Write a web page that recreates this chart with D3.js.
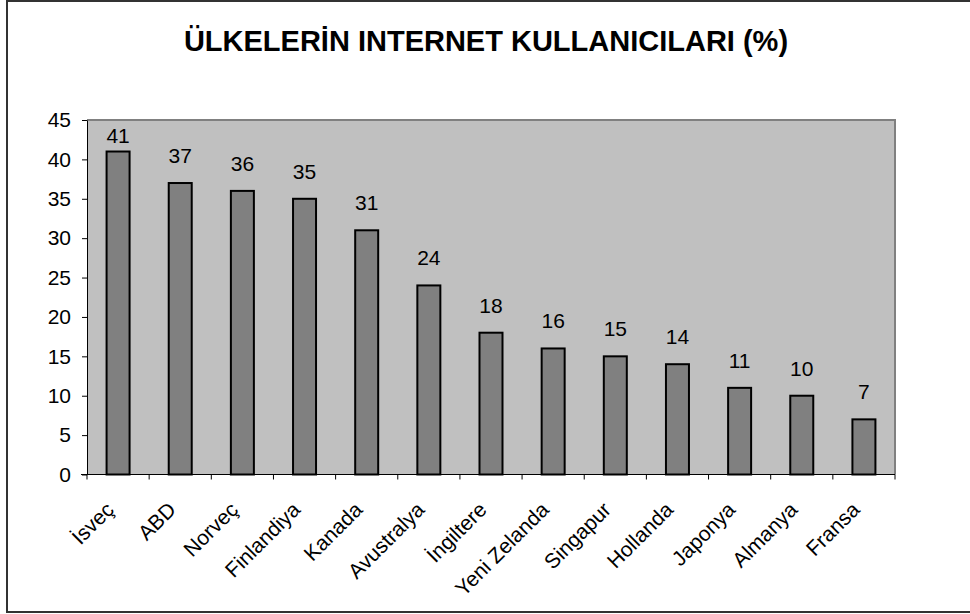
<!DOCTYPE html>
<html>
<head>
<meta charset="utf-8">
<script src="https://cdn.jsdelivr.net/npm/d3@7"></script>
<style>
  body { margin: 0; background: #fff; }
  svg { display: block; font-family: 'Liberation Sans', Arial, sans-serif; }
</style>
</head>
<body>
<svg id="chart"></svg>
<script>
const countries = ['İsveç', 'ABD', 'Norveç', 'Finlandiya', 'Kanada', 'Avustralya', 'İngiltere',
  'Yeni Zelanda', 'Singapur', 'Hollanda', 'Japonya', 'Almanya', 'Fransa'];
const usage = [41, 37, 36, 35, 31, 24, 18, 16, 15, 14, 11, 10, 7];
const yTicks = [0, 5, 10, 15, 20, 25, 30, 35, 40, 45];
const title = 'ÜLKELERİN INTERNET KULLANICILARI (%)';

const data = countries.map((c, i) => ({ country: c, value: usage[i] }));

const W = 970, H = 614;
const plot = { left: 87, right: 895, top: 120, bottom: 474.5 };
const fontFamily = "'Liberation Sans', Arial, sans-serif";

const svg = d3.select('#chart').attr('width', W).attr('height', H);

// outer chart border
svg.append('rect')
  .attr('x', 7).attr('y', 1)
  .attr('width', 1000).attr('height', 611)
  .attr('fill', '#fff')
  .attr('stroke', '#333').attr('stroke-width', 2);

svg.append('text')
  .attr('x', 486).attr('y', 51)
  .attr('text-anchor', 'middle')
  .style('font-size', '29px').style('font-weight', 'bold')
  .text(title);

const xScale = d3.scaleBand()
  .domain(countries)
  .range([plot.left, plot.right])
  .paddingInner(0.63)
  .paddingOuter(0.315);

const yScale = d3.scaleLinear()
  .domain([0, 45])
  .range([plot.bottom, plot.top]);

const step = xScale.step();

// plot area
svg.append('rect')
  .attr('x', plot.left).attr('y', plot.top)
  .attr('width', plot.right - plot.left).attr('height', plot.bottom - plot.top)
  .attr('fill', '#c0c0c0');

svg.append('path')
  .attr('d', `M${plot.left},${plot.top}H${plot.right}V${plot.bottom}`)
  .attr('fill', 'none').attr('stroke', '#808080').attr('stroke-width', 2);

// bars
svg.selectAll('.bar')
  .data(data)
  .enter()
  .append('rect')
  .attr('class', 'bar')
  .attr('x', d => xScale(d.country))
  .attr('y', d => yScale(d.value))
  .attr('width', xScale.bandwidth())
  .attr('height', d => yScale(0) - yScale(d.value))
  .attr('fill', '#808080')
  .attr('stroke', '#000').attr('stroke-width', 2);

// value labels (kept inside the plot area)
svg.selectAll('.val')
  .data(data)
  .enter()
  .append('text')
  .attr('class', 'val')
  .attr('x', d => xScale(d.country) + xScale.bandwidth() / 2)
  .attr('y', d => Math.max(yScale(d.value) - 20, plot.top + 23))
  .attr('text-anchor', 'middle')
  .style('font-size', '21px')
  .text(d => d.value);

// y axis
const yAxis = svg.append('g')
  .attr('transform', `translate(${plot.left},0)`)
  .call(d3.axisLeft(yScale).tickValues(yTicks).tickSize(5).tickSizeOuter(0).tickPadding(11));
yAxis.select('.domain').attr('stroke', '#000');
yAxis.selectAll('text')
  .style('font-size', '21px')
  .style('font-family', fontFamily)
  .attr('fill', '#000');

// x axis: ticks between categories
const xAxis = svg.append('g');
xAxis.append('line')
  .attr('x1', plot.left - 6).attr('x2', plot.right)
  .attr('y1', plot.bottom).attr('y2', plot.bottom)
  .attr('stroke', '#000');
const boundaries = countries.map(c => xScale(c) - (step - xScale.bandwidth()) / 2)
  .concat([plot.right]);
xAxis.selectAll('.xtick')
  .data(boundaries)
  .enter()
  .append('line')
  .attr('x1', d => d).attr('x2', d => d)
  .attr('y1', plot.bottom).attr('y2', plot.bottom + 5)
  .attr('stroke', '#000');

xAxis.selectAll('.xlabel')
  .data(countries)
  .enter()
  .append('text')
  .attr('transform', d => `translate(${xScale(d) + xScale.bandwidth() / 2 - 3},511) rotate(-45)`)
  .attr('text-anchor', 'end')
  .style('font-size', '21px')
  .text(d => d);
</script>
</body>
</html>
